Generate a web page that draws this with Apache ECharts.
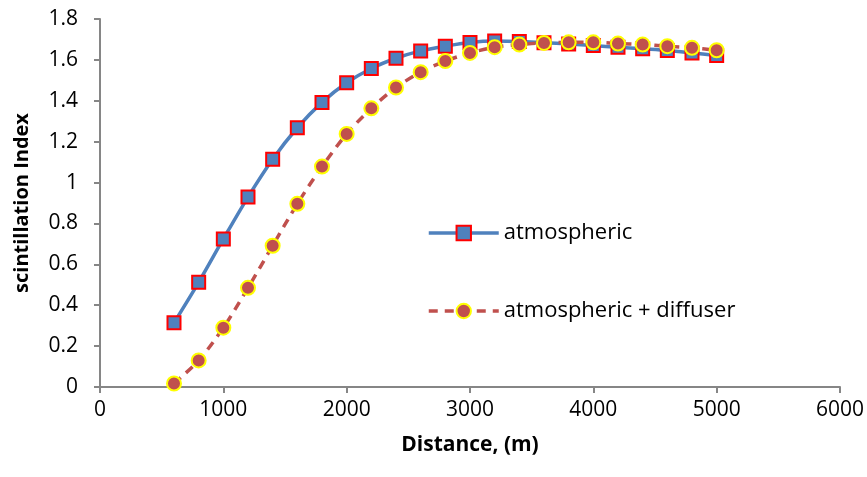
<!DOCTYPE html>
<html>
<head>
<meta charset="utf-8">
<script src="https://cdn.jsdelivr.net/npm/echarts@6/dist/echarts.min.js"></script>
<style>html,body{margin:0;padding:0;background:#fff}#c{width:867px;height:477px}</style>
</head>
<body>
<div id="c"></div>
<script>
var distances = [600,800,1000,1200,1400,1600,1800,2000,2200,2400,2600,2800,3000,3200,3400,3600,3800,4000,4200,4400,4600,4800,5000];
var atmospheric = [0.314,0.512,0.724,0.929,1.114,1.268,1.392,1.488,1.558,1.608,1.644,1.667,1.685,1.692,1.690,1.684,1.678,1.670,1.662,1.654,1.646,1.634,1.621];
var diffuser = [0.017,0.130,0.290,0.485,0.691,0.896,1.078,1.238,1.363,1.465,1.540,1.594,1.634,1.662,1.675,1.683,1.686,1.686,1.680,1.675,1.667,1.659,1.647];
var seriesNames = ['atmospheric', 'atmospheric + diffuser'];
var xTitle = 'Distance, (m)';
var yTitle = 'scintillation Index';

function pairs(xs, ys){ return xs.map(function(x,i){ return [x, ys[i]]; }); }

var font = '"Open Sans", "Noto Sans", "Liberation Sans", sans-serif';
var chart = echarts.init(document.getElementById('c'));
chart.setOption({
  animation: false,
  grid: {left: 100, right: 27, top: 19, bottom: 90, containLabel: false},
  legend: {
    orient: 'vertical', left: 422, top: 217, itemGap: 56,
    itemWidth: 70, itemHeight: 18,
    lineStyle: {width: 3.5},
    textStyle: {fontFamily: font, fontSize: 22, color: '#000'},
    data: seriesNames
  },
  xAxis: {
    type: 'value', min: 0, max: 6000, interval: 1000,
    name: xTitle, nameLocation: 'middle', nameGap: 48,
    nameTextStyle: {fontFamily: font, fontSize: 21, fontWeight: 'bold', color: '#000'},
    axisLine: {show: true, lineStyle: {color: '#868686', width: 2}},
    axisTick: {show: true, length: 6, lineStyle: {color: '#868686', width: 2}},
    axisLabel: {fontFamily: font, fontSize: 21, color: '#000', margin: 13,
      formatter: function(v){ return String(v); }},
    splitLine: {show: false}
  },
  yAxis: {
    type: 'value', min: 0, max: 1.8, interval: 0.2,
    name: yTitle, nameLocation: 'middle', nameGap: 68,
    nameTextStyle: {fontFamily: font, fontSize: 20, fontWeight: 'bold', color: '#000'},
    axisLine: {show: true, lineStyle: {color: '#868686', width: 2}},
    axisTick: {show: true, length: 6, lineStyle: {color: '#868686', width: 2}},
    axisLabel: {fontFamily: font, fontSize: 21, color: '#000', margin: 22,
      formatter: function(v){ return String(Math.round(v*10)/10); }},
    splitLine: {show: false}
  },
  series: [
    {
      name: seriesNames[0], type: 'line', smooth: 0.3,
      data: pairs(distances, atmospheric),
      symbol: 'rect', symbolSize: 13,
      lineStyle: {color: '#4F81BD', width: 3.5},
      itemStyle: {color: '#4F81BD', borderColor: '#FF0000', borderWidth: 2},
      z: 2
    },
    {
      name: seriesNames[1], type: 'line', smooth: 0.3,
      data: pairs(distances, diffuser),
      symbol: 'circle', symbolSize: 14,
      lineStyle: {color: '#C0504D', width: 3.5, type: [9, 7]},
      itemStyle: {color: '#C0504D', borderColor: '#FFFF00', borderWidth: 2},
      z: 3
    }
  ]
});
</script>
</body>
</html>
